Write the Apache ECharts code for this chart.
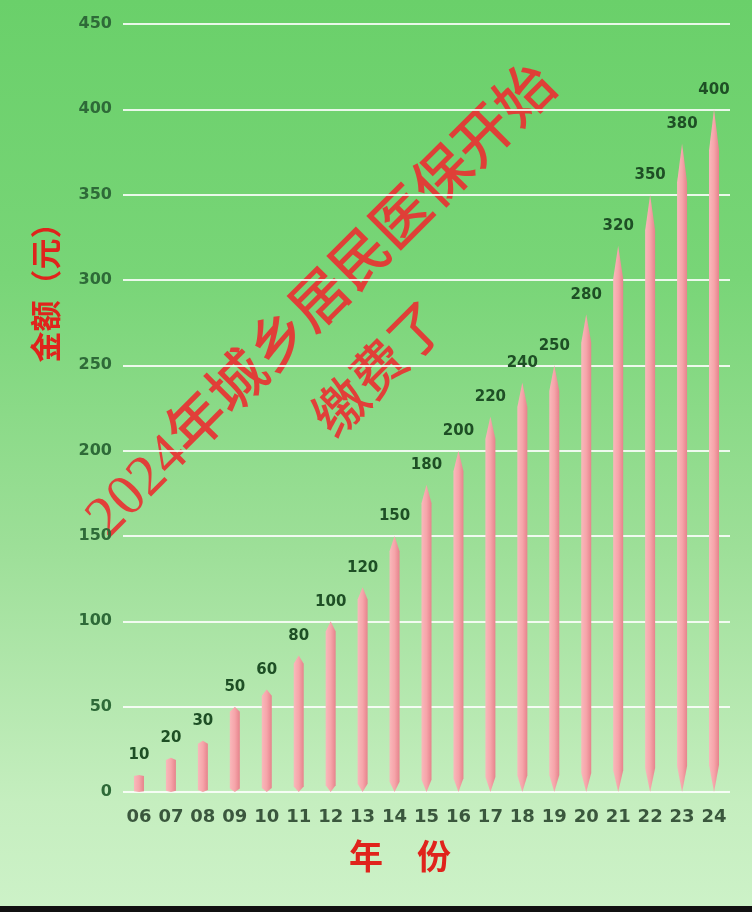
<!DOCTYPE html>
<html>
<head>
<meta charset="utf-8">
<script src="https://cdn.jsdelivr.net/npm/echarts@6/dist/echarts.min.js"></script>
<style>
html,body{margin:0;padding:0;}
#wrap{width:752px;height:912px;position:relative;background:linear-gradient(to bottom,#6ad06a 0%,#78d577 30%,#9ddf98 60%,#c5eebf 88%,#cdf2c8 100%);}
#chart{width:752px;height:912px;}
</style>
</head>
<body>
<div id="wrap"><div id="chart"></div></div>
<script>
const years = ['06','07','08','09','10','11','12','13','14','15','16','17','18','19','20','21','22','23','24'];
const amounts = [10,20,30,50,60,80,100,120,150,180,200,220,240,250,280,320,350,380,400];
const yTicks = {min:0, max:450, interval:50};
const yName = '金额（元）';
const xName = '年\u3000份';
const stamp1 = '2024年城乡居民医保开始';
const stamp2 = '缴费了';

const chart = echarts.init(document.getElementById('chart'), null, {renderer:'canvas'});
const spindle = 'path://M5,0 L10,6 L10,96 L5,100 L0,96 L0,6 Z';
chart.setOption({
  backgroundColor: 'transparent',
  grid: {left:123, right:22, top:24, bottom:120, outerBoundsMode:'none', containLabel:false},
  xAxis: {
    type:'category', data: years,
    axisLine:{show:false}, axisTick:{show:false},
    axisLabel:{interval:0, hideOverlap:false, color:'#3a573d', fontSize:18, fontWeight:'bold', fontFamily:'"DejaVu Sans", sans-serif', margin:16}
  },
  yAxis: {
    type:'value', min:yTicks.min, max:yTicks.max, interval:yTicks.interval,
    axisLine:{show:false}, axisTick:{show:false},
    axisLabel:{color:'#2e6a38', fontSize:16, fontWeight:'bold', fontFamily:'"DejaVu Sans", sans-serif', margin:11},
    splitLine:{lineStyle:{color:'rgba(255,255,255,0.85)', width:2}}
  },
  series: [{
    type:'pictorialBar',
    data: amounts,
    symbol: spindle,
    symbolSize: [10,'100%'],
    symbolRepeat: false,
    itemStyle: {
      color: new echarts.graphic.LinearGradient(0,0,1,0,[
        {offset:0,color:'#f9b8bb'},{offset:0.5,color:'#f6a5aa'},{offset:1,color:'#e6838c'}
      ])
    },
    label: {show:true, position:'top', distance:12, color:'#1e4f25', fontSize:15, fontWeight:'bold', fontFamily:'"DejaVu Sans", sans-serif'}
  }],
  graphic: [
    {type:'text', x:45, y:285, rotation:Math.PI/2,
     style:{text:yName, fill:'#e0231c', font:'bold 31px "Noto Sans CJK SC"', textAlign:'center', textVerticalAlign:'middle'}},
    {type:'text', x:400, y:856,
     style:{text:xName, fill:'#e0231c', font:'bold 34px "Noto Sans CJK SC"', textAlign:'center', textVerticalAlign:'middle'}},
    {type:'text', x:323, y:303, rotation:Math.PI/4,
     style:{text:stamp1, fill:'rgba(232,50,50,0.92)', font:'500 58px "Liberation Serif", "Noto Sans CJK SC"', textAlign:'center', textVerticalAlign:'middle'}},
    {type:'text', x:378, y:368, rotation:Math.PI/4,
     style:{text:stamp2, fill:'rgba(232,50,50,0.92)', font:'500 54px "Noto Sans CJK SC"', textAlign:'center', textVerticalAlign:'middle'}},
    {type:'rect', shape:{x:0,y:906,width:752,height:6}, style:{fill:'#111'}}
  ]
});
</script>
</body>
</html>
